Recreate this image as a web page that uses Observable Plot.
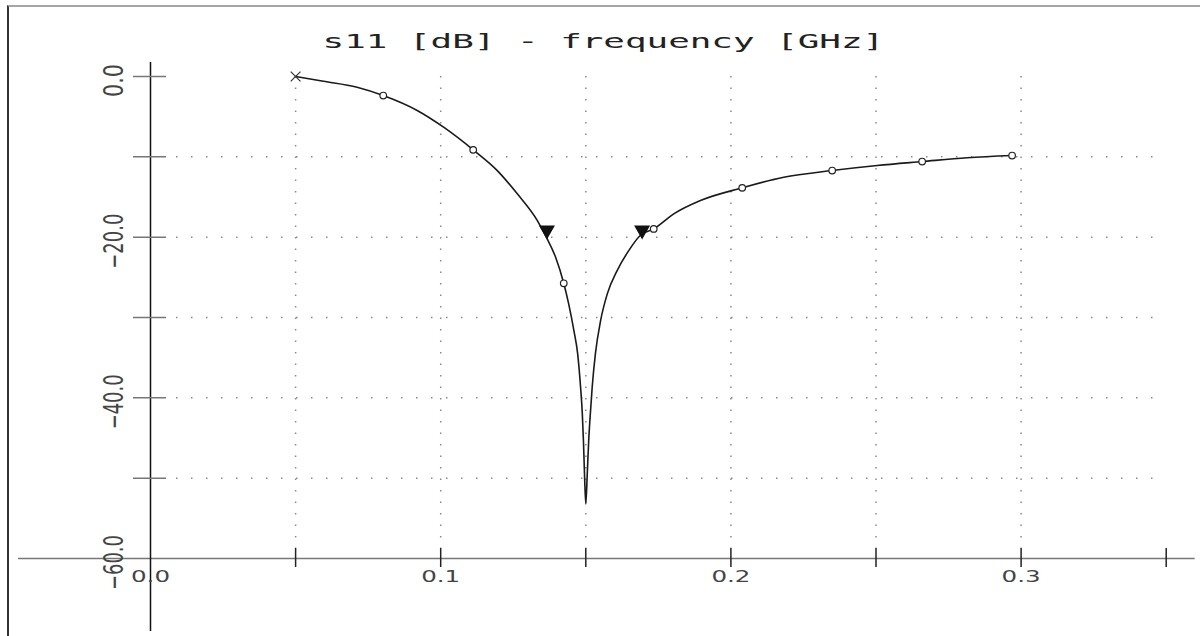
<!DOCTYPE html>
<html><head><meta charset="utf-8">
<script src="https://cdn.jsdelivr.net/npm/d3@7"></script>
<script src="https://cdn.jsdelivr.net/npm/@observablehq/plot@0.6"></script>
<style>
html,body{margin:0;padding:0;background:#fff;width:1200px;height:636px;overflow:hidden;}
#chart{position:absolute;left:0;top:0;}
#border{position:absolute;left:7px;top:5px;width:1193px;height:631px;border-top:2px solid #a6a6a6;border-left:2px solid #333;box-sizing:border-box;pointer-events:none;}
</style></head><body>
<div id="chart"></div><div id="border"></div>
<script>
const titleText = "s11 [dB] - frequency [GHz]";

// s11 trace (GHz, dB)
const freq = [0.0500, 0.0596, 0.0712, 0.0802, 0.0919, 0.1010, 0.1112, 0.1195, 0.1264, 0.1333, 0.1364, 0.1396, 0.1424, 0.1441, 0.1459, 0.1472, 0.1482, 0.1488, 0.1492, 0.1496, 0.1500, 0.1505, 0.1510, 0.1514, 0.1522, 0.1533, 0.1551, 0.1574, 0.1608, 0.1648, 0.1690, 0.1734, 0.1803, 0.1895, 0.2039, 0.2182, 0.2349, 0.2504, 0.2659, 0.2814, 0.2969];
const s11  = [0.00, -0.59, -1.33, -2.37, -4.23, -6.31, -9.13, -11.71, -14.61, -17.93, -20.0, -22.50, -25.74, -28.31, -31.63, -34.53, -38.69, -41.97, -45.5, -50.0, -53.2, -49.5, -45.3, -42.84, -38.69, -34.53, -30.39, -27.06, -24.16, -21.67, -19.7, -18.97, -17.10, -15.44, -13.86, -12.54, -11.71, -11.08, -10.59, -10.12, -9.84];

// circle markers along the trace
const markerFreq = [0.0802, 0.1112, 0.1424, 0.1734, 0.2039, 0.2349, 0.2659, 0.2969];
const markerS11  = [-2.37, -9.13, -25.74, -18.97, -13.86, -11.71, -10.59, -9.84];

// start marker (cross) and -20 dB triangle markers
const startFreq = [0.05];
const startS11 = [0.0];
const triFreq = [0.1366, 0.1694];
const triS11 = [-20, -20];

// axes
const xGrid = [0.05, 0.10, 0.15, 0.20, 0.25, 0.30];
const xTicks = [0.05, 0.10, 0.15, 0.20, 0.25, 0.30, 0.35];
const xLabels = [0.0, 0.1, 0.2, 0.3];
const yGrid = [-10, -20, -30, -40, -50];
const yTicks = [0, -10, -20, -30, -40, -50];
const yLabels = [0, -20, -40, -60];

const curve = freq.map((f, i) => ({f, s: s11[i]}));
const circles = markerFreq.map((f, i) => ({f, s: markerS11[i]}));
const start = startFreq.map((f, i) => ({f, s: startS11[i]}));
const tris = triFreq.map((f, i) => ({f, s: triS11[i]}));
const fmt = d3.format(".1f");

const plot = Plot.plot({
  width: 1200, height: 636,
  marginTop: 76, marginBottom: 78, marginLeft: 150, marginRight: 34.3,
  x: {domain: [0, 0.35], axis: null},
  y: {domain: [-60, 0], axis: null},
  style: {background: "transparent", fontFamily: "DejaVu Sans"},
  marks: [
    Plot.ruleX(xGrid, {stroke: "#8a8a8a", strokeWidth: 1.5, strokeDasharray: "1.5,10", insetBottom: 10}),
    Plot.ruleY(yGrid, {stroke: "#8a8a8a", strokeWidth: 1.5, strokeDasharray: "1.5,13.5", insetLeft: 26}),
    Plot.ruleY([-60], {stroke: "#777", strokeWidth: 1.5, insetLeft: -132, insetRight: -29}),
    Plot.ruleX([0], {stroke: "#111", strokeWidth: 1.5, insetTop: -14, insetBottom: -73}),
    Plot.ruleY(yTicks, {x1: 0, x2: 0, stroke: "#777", strokeWidth: 1.5, insetLeft: -17, insetRight: -16}),
    Plot.ruleX(xTicks, {y1: -60, y2: -60, stroke: "#222", strokeWidth: 1.5, insetTop: -10, insetBottom: -9}),
    Plot.line(curve, {x: "f", y: "s", stroke: "#1a1a1a", strokeWidth: 1.6, curve: "monotone-x"}),
    Plot.dot(circles, {x: "f", y: "s", r: 3.3, stroke: "#222", fill: "white", strokeWidth: 1.2}),
    Plot.dot(start, {x: "f", y: "s", symbol: "times", r: 4.5, stroke: "#333", strokeWidth: 1.2}),
    Plot.dot(tris, {x: "f", y: "s", symbol: "triangle", rotate: 180, r: 5, fill: "#111", stroke: "#111", dy: -7}),
    Plot.text([titleText], {frameAnchor: "top", dx: -55, dy: -29, lineAnchor: "bottom", fontFamily: "DejaVu Sans Mono", fontSize: 20, fill: "#222", ariaDescription: "title"}),
    Plot.text(xLabels, {x: d => d, text: d => fmt(d), frameAnchor: "bottom", lineAnchor: "bottom", dy: 23, fontSize: 16, fill: "#444", ariaDescription: "xlab"}),
    Plot.text(yLabels, {y: d => d, text: d => fmt(d), frameAnchor: "left", dx: -28, dy: 4, rotate: -90, textAnchor: "middle", lineAnchor: "bottom", fontSize: 27, fill: "#444", ariaDescription: "ylab"})
  ]
});

function stretch(desc, perChar) {
  plot.querySelectorAll(`g[aria-description="${desc}"] text`).forEach(t => {
    const n = t.textContent.length;
    t.setAttribute("textLength", n * perChar);
    t.setAttribute("lengthAdjust", "spacingAndGlyphs");
  });
}
stretch("title", 21.6);
stretch("xlab", 13);
stretch("ylab", 11);

document.getElementById("chart").appendChild(plot);
</script>
</body></html>
